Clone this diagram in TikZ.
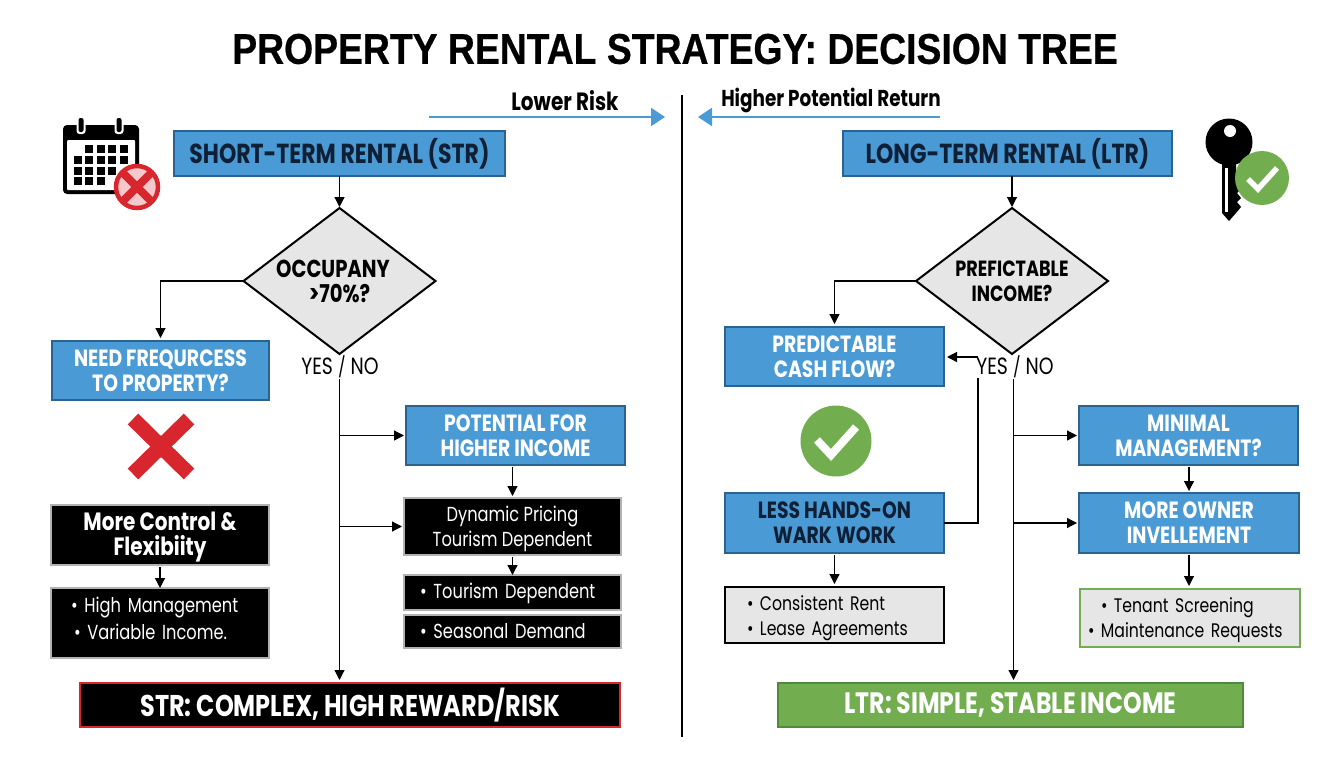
\documentclass[tikz,border=0pt]{standalone}
\usepackage{fontspec}
\setmainfont{Liberation Sans}[FakeStretch=0.868,BoldFeatures={FakeBold=0.5}]
\newfontfamily\cond[FakeStretch=0.8]{Poppins}
\usetikzlibrary{arrows.meta,shapes.geometric,calc}
\definecolor{bluefill}{HTML}{4A9BD5}
\definecolor{blueline}{HTML}{2B628F}
\definecolor{grayfill}{HTML}{E6E6E6}
\definecolor{greenfill}{HTML}{72AE50}
\definecolor{greenline}{HTML}{4F8B3A}
\definecolor{redc}{HTML}{D8262F}
\definecolor{darkt}{HTML}{0F2036}
\newcommand{\fsz}[1]{\fontsize{#1}{25}\selectfont}
\newcommand{\dnl}[2]{\raisebox{-#1pt}[\height][\depth]{#2}}
\tikzset{
 box/.style={rectangle,anchor=north west,inner sep=0pt,outer sep=0pt,align=center,line width=1.6pt,font=\cond\fsz{20}},
 bluebox/.style={box,fill=bluefill,draw=blueline,text=white,font=\cond\bfseries\fsz{23.5}},
 darkbox/.style={box,fill=black,draw=black!30,text=white,font=\cond\fsz{20.3}},
 lightbox/.style={box,fill=grayfill,draw=black,text=black,font=\cond\fsz{19.6}},
 sz/.style 2 args={minimum width=#1pt,minimum height=#2pt},
 bul/.style={text width=#1pt,align=left},
 dec/.style={diamond,draw=black,fill=grayfill,line width=2pt,inner sep=0pt,outer sep=0pt,aspect=1.315,minimum width=192pt,minimum height=146pt,align=center,font=\cond\bfseries\fsz{22}},
 lbl/.style={inner sep=0pt,font=\cond\bfseries\fsz{23}},
 yn/.style={inner sep=0pt,font=\cond\fsz{23.5}},
 arr/.style={draw=black,line width=1.2pt,-{Triangle[length=10pt,width=10pt]}},
 plain/.style={draw=black,line width=1.2pt},
 bluearr/.style={draw=bluefill,line width=2pt,-{Triangle[length=14pt,width=18pt]}},
}
\begin{document}
\begin{tikzpicture}[x=1pt,y=-1pt]
\useasboundingbox (0,0) rectangle (1344,768);
\fill[white] (0,0) rectangle (1344,768);
\node[inner sep=0pt,font=\bfseries\fontsize{43}{50}\selectfont] (title) at (675,49) {PROPERTY RENTAL STRATEGY: DECISION TREE};

% divider and scale arrows
\coordinate (divt) at (682,95); \coordinate (divb) at (682,737);
\draw[black,line width=2pt] (divt) -- (divb);
\node[lbl,font=\cond\bfseries\fsz{25}] (lowrisk) at (565,101) {Lower Risk};
\node[lbl] (highret) at (831,100) {Higher Potential Return};
\coordinate (la) at (429,117); \coordinate (lb) at (665,117);
\coordinate (ra) at (940,117); \coordinate (rb) at (698,117);
\draw[bluearr] (la) -- (lb);
\draw[bluearr] (ra) -- (rb);

% calendar icon
\fill[black,rounded corners=4pt] (63,125) rectangle (139,194);
\fill[white,rounded corners=1pt] (67,140) rectangle (135,190);
\foreach \x in {81,119}{
 \fill[white,rounded corners=3pt] (\x-4.5,117) rectangle (\x+4.5,134);
 \fill[black,rounded corners=2pt] (\x-2.5,118) rectangle (\x+2.5,132);
}
\foreach \x/\y in {89/149.3,100.7/149.3,112.3/149.3,124/149.3,
 77.7/160,89/160,100.7/160,112.3/160,124/160,
 77.7/170.7,89/170.7,100.7/170.7,112.3/170.7,
 77.7/181.3,89/181.3,100.7/181.3}{
 \fill[black] (\x-4,\y-4) rectangle (\x+4,\y+4);
}
\fill[redc!25!white] (137,187) circle (21);
\draw[redc,line width=4.5pt] (137,187) circle (21);
\draw[redc,line width=8pt] (123,173) -- (151,201);
\draw[redc,line width=8pt] (151,173) -- (123,201);

% key icon
\fill[black] (1229,142) circle (23.5);
\fill[white] (1230,131) circle (6);
\fill[black] (1222,158) -- (1236,158) -- (1236,183) -- (1241,189) -- (1237,193) -- (1241,198) -- (1237,202) -- (1241,207) -- (1236,213) -- (1229,221) -- (1222,213) -- cycle;
\fill[white] (1225,168) rectangle (1227.5,212);
\fill[greenfill] (1262,178) circle (27);
\draw[white,line width=5.5pt] (1248,179) -- (1258,189) -- (1277,168);

% left column nodes
\node[bluebox,sz={331}{45},text=darkt,font=\cond\bfseries\fsz{27.5}] (str) at (174,131) {SHORT-TERM RENTAL (STR)};
\node[dec,font=\cond\bfseries\fsz{24.5}] (occ) at (339.5,281) {\hspace*{-13pt}OCCUPANY\\>70\%?};
\node[bluebox,sz={217}{59}] (need) at (52,341) {NEED FREQURCESS\\TO PROPERTY?};
\node[yn] (ynl) at (340,367) {YES {\fontsize{20}{25}\selectfont /} NO};
\node[bluebox,sz={219}{59}] (pot) at (406,406) {POTENTIAL FOR\\HIGHER INCOME};
\node[darkbox,sz={217}{57}] (dyn) at (404,498) {\dnl{2.5}{Dynamic Pricing}\\\dnl{2}{Tourism Dependent}};
\node[darkbox,sz={217}{35},bul=217] (tour) at (404,575) {\hspace*{16pt}\dnl{1}{• Tourism Dependent}};
\node[darkbox,sz={217}{33},bul=217] (seas) at (404,615) {\hspace*{16pt}• Seasonal Demand};
\node[darkbox,sz={218}{60},font=\cond\bfseries\fsz{25}] (ctrl) at (51,505) {\dnl{2.5}{More Control \&}\\\dnl{2}{Flexibiity}};
\node[darkbox,sz={218}{70},bul=218] (high) at (51,588) {\hspace*{20pt}\dnl{-6}{• High Management}\\\hspace*{23pt}\dnl{-4}{• Variable Income.}};
\node[box,sz={540}{44},fill=black,draw=redc,line width=2pt,text=white,font=\cond\bfseries\fsz{30}] (strend) at (80,683) {STR: COMPLEX, HIGH REWARD/RISK};

% red cross
\draw[redc,line width=15pt] (133,419) -- (189,474);
\draw[redc,line width=15pt] (189,419) -- (133,474);

% right column nodes
\node[bluebox,sz={329}{45},text=darkt,font=\cond\bfseries\fsz{27.5}] (ltr) at (843,131) {LONG-TERM RENTAL (LTR)};
\node[dec] (inc) at (1012,281) {PREFICTABLE\\INCOME?};
\node[bluebox,sz={219}{59}] (pred) at (725,327) {PREDICTABLE\\CASH FLOW?};
\node[yn] (ynr) at (1015,367) {YES {\fontsize{20}{25}\selectfont /} NO};
\node[bluebox,sz={219}{59}] (minm) at (1079,406) {MINIMAL\\MANAGEMENT?};
\node[bluebox,sz={219}{60},text=darkt] (less) at (725,493) {LESS HANDS-ON\\WARK WORK};
\node[bluebox,sz={220}{60}] (owner) at (1079,493) {MORE OWNER\\INVELLEMENT};
\node[lightbox,sz={219}{56},bul=219] (rent) at (725,587) {\hspace*{22pt}\dnl{3.5}{• Consistent Rent}\\\hspace*{22pt}\dnl{3.5}{• Lease Agreements}};
\node[lightbox,sz={220}{58},bul=220,draw=greenfill] (tenant) at (1080,589) {\hspace*{21pt}\dnl{2}{• Tenant Screening}\\\hspace*{8pt}\dnl{2.5}{• Maintenance Requests}};
\node[box,sz={465}{44},fill=greenfill,draw=greenline,line width=1.6pt,text=white,font=\cond\bfseries\fsz{29.5}] (ltrend) at (778,683) {LTR: SIMPLE, STABLE INCOME};

% green check
\fill[greenfill] (836,441) circle (35.5);
\draw[white,line width=8pt] (817,440) -- (831,455) -- (856,427);

% left connectors
\coordinate (ltl) at (339.5,379);
\coordinate (jp) at (ltl |- pot.west);
\coordinate (jd) at (ltl |- dyn.west);
\draw[arr,shorten >=1pt] (str.south -| occ.north) -- (occ.north);
\draw[arr,shorten >=3pt] (occ.west) -| (need.north);
\draw[arr,shorten >=3pt] (ltl) -- (ltl |- strend.north);
\draw[arr,shorten >=2pt] (jp) -- (pot.west);
\draw[arr,shorten >=2pt] (jd) -- (dyn.west);
\draw[arr,shorten <=2pt,shorten >=2pt] (pot.south -| dyn.north) -- (dyn.north);
\draw[arr,shorten <=2pt] (dyn.south) -- (tour.north);
\draw[arr,shorten <=2pt] (ctrl.south) -- (high.north);

% right connectors
\coordinate (ltr2) at (1013.5,379);
\coordinate (jm) at (ltr2 |- minm.west);
\coordinate (jo) at (ltr2 |- owner.west);
\coordinate (bk) at (978,378);
\coordinate (bt) at (978,357);
\draw[arr,shorten >=1pt] (ltr.south -| inc.north) -- (inc.north);
\draw[arr,shorten >=3pt] (inc.west) -| (pred.north);
\draw[arr,shorten >=3pt] (ltr2) -- (ltr2 |- ltrend.north);
\draw[arr,shorten >=2pt] (jm) -- (minm.west);
\draw[arr,shorten >=2pt] (jo) -- (owner.west);
\draw[plain] (less.east) -| (bk);
\draw[arr,shorten >=3pt] (bt) -- (pred.east |- bt);
\draw[arr,shorten <=2pt,shorten >=2pt] (owner.north |- minm.south) -- (owner.north);
\draw[arr,shorten <=2pt,shorten >=3pt] (less.south) -- (rent.north);
\draw[arr,shorten <=2pt,shorten >=3pt] (owner.south) -- (owner.south |- tenant.north);
\end{tikzpicture}
\end{document}
